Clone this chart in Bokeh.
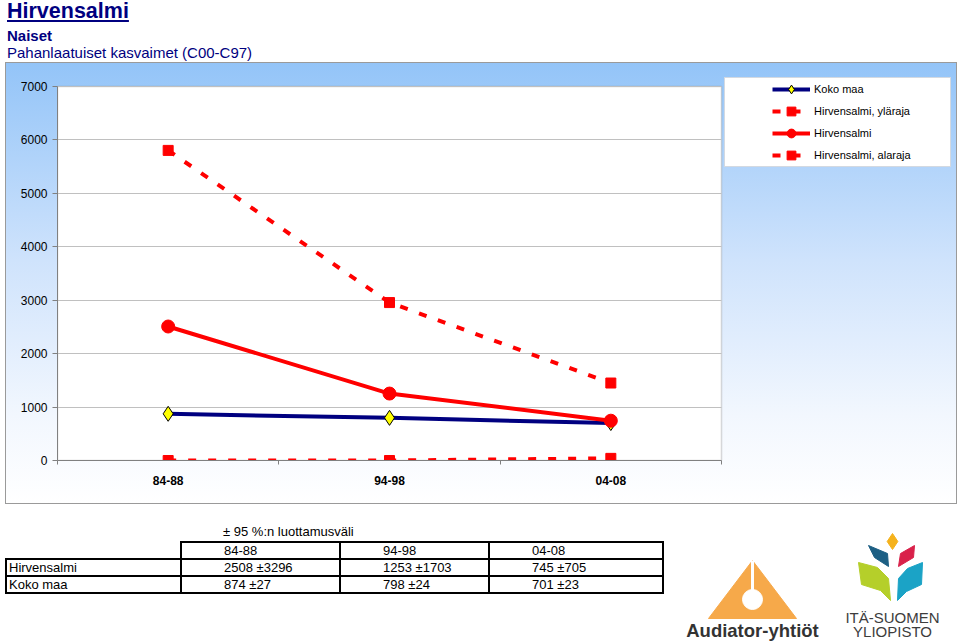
from bokeh.plotting import figure
from bokeh.models import Range1d, FixedTicker, Legend, LegendItem, Div, BoxAnnotation, Grid
from bokeh.layouts import column, row
from bokeh.core.properties import value
from bokeh.embed import file_html
from bokeh.resources import INLINE

# ---- data ----
periods = ["84-88", "94-98", "04-08"]
koko_maa = [874, 798, 701]
koko_maa_ci = [27, 24, 23]
hirvensalmi = [2508, 1253, 745]
hirvensalmi_ci = [3296, 1703, 705]
hirvensalmi_upper = [5804, 2956, 1450]
hirvensalmi_lower = [0, 0, 40]
y_ticks = [0, 1000, 2000, 3000, 4000, 5000, 6000, 7000]

FONT = "Liberation Sans"
NAVY = "#000080"
RED = "#ff0000"

# ---- header ----
header = Div(
    width=959, height=62, margin=0,
    text=(
        f"<div style=\"font-family:'{FONT}',Arial,sans-serif;color:{NAVY};line-height:1;padding-left:7px;\">"
        "<div style='font-size:21.5px;line-height:1.1;font-weight:bold;text-decoration:underline;'>Hirvensalmi</div>"
        "<div style='font-size:15px;font-weight:bold;margin-top:4px;'>Naiset</div>"
        "<div style='font-size:15px;margin-top:2px;'>Pahanlaatuiset kasvaimet (C00-C97)</div>"
        "</div>"
    ),
)

# ---- main chart ----
# layout geometry (pixels): plot area spans 57..721 horizontally, 86..460 vertically,
# the chart panel spans 5..957 x 62..504
n = len(periods)
x_pos = [i + 0.5 for i in range(n)]
x_end = n * (956 - 57) / (721 - 57)
y_end = y_ticks[-1] * (460 - 62) / (460 - 86)

p = figure(
    x_range=Range1d(0, x_end), y_range=Range1d(0, y_end),
    width=952, height=442, margin=(0, 0, 0, 5),
    output_backend="svg", toolbar_location=None,
    min_border_left=52, min_border_right=1,
    min_border_top=0, min_border_bottom=44,
)
p.border_fill_color = None
p.background_fill_color = None
p.outline_line_color = None
p.styles = {
    "background": "linear-gradient(to bottom, #93c4f8 0%, #cfe3fc 45%, #f2f7fe 80%, #ffffff 100%)",
    "outline": "1px solid #9a9a9a",
    "outline-offset": "-1px",
}

plot_area = BoxAnnotation(left=0, right=n, bottom=0, top=y_ticks[-1],
                          fill_color="white", fill_alpha=1,
                          line_color="#808080", line_width=1.5, level="image")
p.add_layout(plot_area)

p.xgrid.grid_line_color = None
if "cross_bounds" in Grid.properties():
    p.ygrid.grid_line_color = "#c0c0c0"
    p.ygrid.grid_line_width = 1
    p.ygrid.cross_bounds = (0, n)
    p.ygrid.bounds = (y_ticks[1], y_ticks[-2])
else:
    p.ygrid.grid_line_color = None
    p.segment(x0=[0] * (len(y_ticks) - 2), x1=[n] * (len(y_ticks) - 2),
              y0=y_ticks[1:-1], y1=y_ticks[1:-1], line_color="#c0c0c0", line_width=1,
              level="underlay")

p.yaxis.ticker = FixedTicker(ticks=y_ticks)
p.yaxis.bounds = (y_ticks[0], y_ticks[-1])
p.yaxis.axis_line_color = "#808080"
p.yaxis.major_tick_line_color = "#808080"
p.yaxis.major_tick_out = 5
p.yaxis.major_tick_in = 0
p.yaxis.minor_tick_line_color = None
p.yaxis.major_label_standoff = 5
p.yaxis.major_label_text_font = FONT
p.yaxis.major_label_text_font_size = "12px"
p.yaxis.major_label_text_color = "black"

p.xaxis.ticker = FixedTicker(ticks=x_pos, minor_ticks=list(range(n + 1)))
p.xaxis.major_label_overrides = {x: lab for x, lab in zip(x_pos, periods)}
p.xaxis.bounds = (0, n)
p.xaxis.axis_line_color = "#808080"
p.xaxis.major_tick_line_color = None
p.xaxis.major_tick_out = 0
p.xaxis.major_tick_in = 0
p.xaxis.minor_tick_line_color = "#808080"
p.xaxis.minor_tick_out = 4
p.xaxis.minor_tick_in = 0
p.xaxis.major_label_standoff = 11
p.xaxis.major_label_text_font = FONT
p.xaxis.major_label_text_font_style = "bold"
p.xaxis.major_label_text_font_size = "12px"
p.xaxis.major_label_text_color = "black"

dummy = p.line(x=x_pos, y=koko_maa, line_alpha=0)

k_line = p.line(x=x_pos, y=koko_maa, line_color=NAVY, line_width=4)
k_pts = p.scatter(x=x_pos, y=koko_maa, marker="diamond", size=15,
                  fill_color="#ffff00", line_color="black", line_width=1)

u_line = p.line(x=x_pos, y=hirvensalmi_upper, line_color=RED, line_width=4, line_dash="8 12")
u_pts = p.scatter(x=x_pos, y=hirvensalmi_upper, marker="square", size=10,
                  fill_color=RED, line_color=RED)

l_line = p.line(x=x_pos, y=hirvensalmi_lower, line_color=RED, line_width=4, line_dash="8 12")
l_pts = p.scatter(x=x_pos, y=hirvensalmi_lower, marker="square", size=10,
                  fill_color=RED, line_color=RED)

h_line = p.line(x=x_pos, y=hirvensalmi, line_color=RED, line_width=4)
h_pts = p.scatter(x=x_pos, y=hirvensalmi, marker="circle", size=13,
                  fill_color=RED, line_color=RED)

legend_box = Legend(
    items=[LegendItem(label=" ", renderers=[dummy])],
    location=(667, 293), padding=0, margin=0, spacing=0,
    glyph_width=225, glyph_height=88, label_standoff=0, label_width=0,
    label_text_font_size="1px",
    border_line_color="#a8b4c4", border_line_width=1,
    background_fill_color="white", background_fill_alpha=1,
)
legend = Legend(
    items=[
        LegendItem(label="Koko maa", renderers=[k_line, k_pts]),
        LegendItem(label="Hirvensalmi, yläraja", renderers=[u_line, u_pts]),
        LegendItem(label="Hirvensalmi", renderers=[h_line, h_pts]),
        LegendItem(label="Hirvensalmi, alaraja", renderers=[l_line, l_pts]),
    ],
    location=(715, 294), padding=0, margin=0, spacing=0,
    glyph_width=38, glyph_height=22, label_height=22, label_standoff=4,
    label_text_font=FONT, label_text_font_size="11px", label_text_color="black",
    border_line_color=None, background_fill_alpha=0,
)
p.add_layout(legend_box, "center")
p.add_layout(legend, "center")

# ---- table ----
col_w = [175, 159, 149, 174]
cell = "border:2px solid #000;padding:0 0 0 {pad}px;height:15px;line-height:15px;white-space:nowrap;overflow:hidden;"
def td(txt, pad, w=None, border=True):
    st = cell.format(pad=pad) if border else "padding:0;height:15px;"
    if w:
        st += f"width:{w}px;"
    return f"<td style='{st}'>{txt}</td>"

header_row = "<tr>" + td("", 0, col_w[0], border=False) + "".join(
    td(per, 42, col_w[i + 1]) for i, per in enumerate(periods)) + "</tr>"
h_row = "<tr>" + td("Hirvensalmi", 2) + "".join(
    td(f"{v} ±{c}", 42) for v, c in zip(hirvensalmi, hirvensalmi_ci)) + "</tr>"
k_row = "<tr>" + td("Koko maa", 2) + "".join(
    td(f"{v} ±{c}", 42) for v, c in zip(koko_maa, koko_maa_ci)) + "</tr>"

table_html = (
    f"<div style=\"position:relative;width:670px;height:138px;font-family:'{FONT}',Arial,sans-serif;"
    "font-size:13px;color:#000;\">"
    "<div style='position:absolute;left:223px;top:20px;line-height:15px;'>± 95 %:n luottamusväli</div>"
    "<table style='position:absolute;left:5px;top:37px;border-collapse:collapse;table-layout:fixed;'>"
    + header_row + h_row + k_row +
    "</table></div>"
)
table_div = Div(text=table_html, width=670, height=138, margin=0)

# ---- logos (decorative) ----
lg = figure(width=289, height=138, x_range=Range1d(0, 289), y_range=Range1d(138, 0),
            output_backend="svg", toolbar_location=None, min_border=0, margin=0)
lg.axis.visible = False
lg.grid.visible = False
lg.outline_line_color = None
lg.border_fill_color = None
lg.background_fill_color = None

lg.patch(x=[82, 38, 126], y=[56, 114, 114], fill_color="#f6a94a", line_color="#f6a94a")
lg.segment(x0=[82], y0=[56], x1=[82], y1=[89], line_color="white", line_width=3)
lg.scatter(x=[82], y=[95], size=20, marker="circle", fill_color="white", line_color="white")
lg.text(x=[82], y=[126], text=["Audiator-yhtiöt"], text_font=value(FONT), text_font_style="bold",
        text_font_size="18.5px", text_color="#333333", text_align="center", text_baseline="middle")

lg.scatter(x=[222], y=[37], marker="diamond", size=16, fill_color="#f5b21c", line_color="#f5b21c")
lg.patch(x=[198, 217, 218, 204], y=[41, 49, 62, 53], fill_color="#1d5f84", line_color="#1d5f84")
lg.patch(x=[244, 230, 228, 243], y=[41, 49, 62, 53], fill_color="#d9214a", line_color="#d9214a")
lg.patch(x=[188, 207, 218, 220, 210, 191], y=[58, 63, 74, 96, 86, 80], fill_color="#b5cf2a", line_color="#b5cf2a")
lg.patch(x=[227, 228, 237, 252, 251, 236], y=[96, 74, 64, 58, 80, 87], fill_color="#1ba3c6", line_color="#1ba3c6")
lg.text(x=[222, 222], y=[113, 127], text=["ITÄ-SUOMEN", "YLIOPISTO"], text_font=value(FONT),
        text_font_size="15px", text_color="#3d3d3d", text_align="center", text_baseline="middle")

layout = column(header, p, row(table_div, lg, spacing=0), spacing=0)

open("out.html", "w").write(file_html(layout, INLINE))
